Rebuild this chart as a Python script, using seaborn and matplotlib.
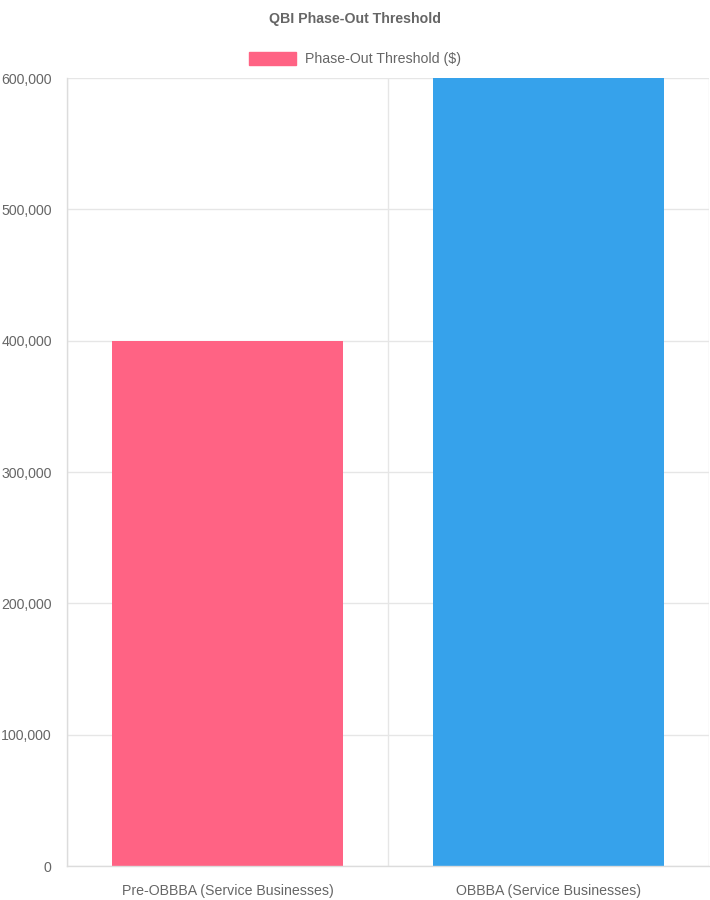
import matplotlib
matplotlib.use("Agg")
import matplotlib.pyplot as plt
import seaborn as sns
import pandas as pd
from matplotlib.patches import Patch
from matplotlib.ticker import FuncFormatter, MultipleLocator

categories = ["Pre-OBBBA (Service Businesses)", "OBBBA (Service Businesses)"]
values = [400000, 600000]
colors = ["#FF6384", "#36A2EB"]
series_label = "Phase-Out Threshold ($)"
title = "QBI Phase-Out Threshold"

df = pd.DataFrame({"category": categories, "value": values})

sns.set_theme(style="white")
plt.rcParams["font.family"] = ["Liberation Sans", "DejaVu Sans"]

fig = plt.figure(figsize=(7.1, 9.0), dpi=100)
ax = fig.add_axes([67/710, 1-866/900, (709-67)/710, (866-78)/900])

sns.barplot(data=df, x="category", y="value", hue="category", palette=colors,
            width=0.72, ax=ax, legend=False, saturation=1, edgecolor="none")

ax.set_ylim(0, 600000)
ax.set_xlim(-0.5, 1.5)
ax.yaxis.set_major_locator(MultipleLocator(100000))
ax.yaxis.set_major_formatter(FuncFormatter(lambda v, p: f"{int(v):,}"))
ax.set_xlabel("")
ax.set_ylabel("")

grid_c = "#e6e6e6"
ax.set_xticks([-0.5, 0.5, 1.5], minor=False)
ax.set_xticklabels(["", "", ""])
ax.set_xticks([0, 1], minor=True)
ax.set_xticklabels(categories, minor=True)
ax.tick_params(axis="x", which="major", length=8, color=grid_c, width=1)
ax.tick_params(axis="x", which="minor", length=0, pad=13, labelsize=10.2, labelcolor="#666666")
ax.tick_params(axis="y", length=7, color=grid_c, width=1, pad=4, labelsize=10.2, labelcolor="#666666")
ax.grid(True, axis="both", which="major", color=grid_c, linewidth=1)
ax.set_axisbelow(True)
for s in ["top", "right"]:
    ax.spines[s].set_visible(False)
for s in ["left", "bottom"]:
    ax.spines[s].set_color("#dcdcdc")
    ax.spines[s].set_linewidth(1)

fig.text(355/710, 1-19/900, title, ha="center", va="center", fontsize=10.2, fontweight="bold", color="#666666")
handles = [Patch(facecolor=colors[0], edgecolor=colors[0], label=series_label)]
fig.legend(handles=handles, loc="center", bbox_to_anchor=(355/710, 1-59/900), frameon=False,
           handlelength=3.3, handleheight=1.0, handletextpad=0.6, fontsize=10.2, labelcolor="#666666")

fig.savefig("out.png", dpi=100)
